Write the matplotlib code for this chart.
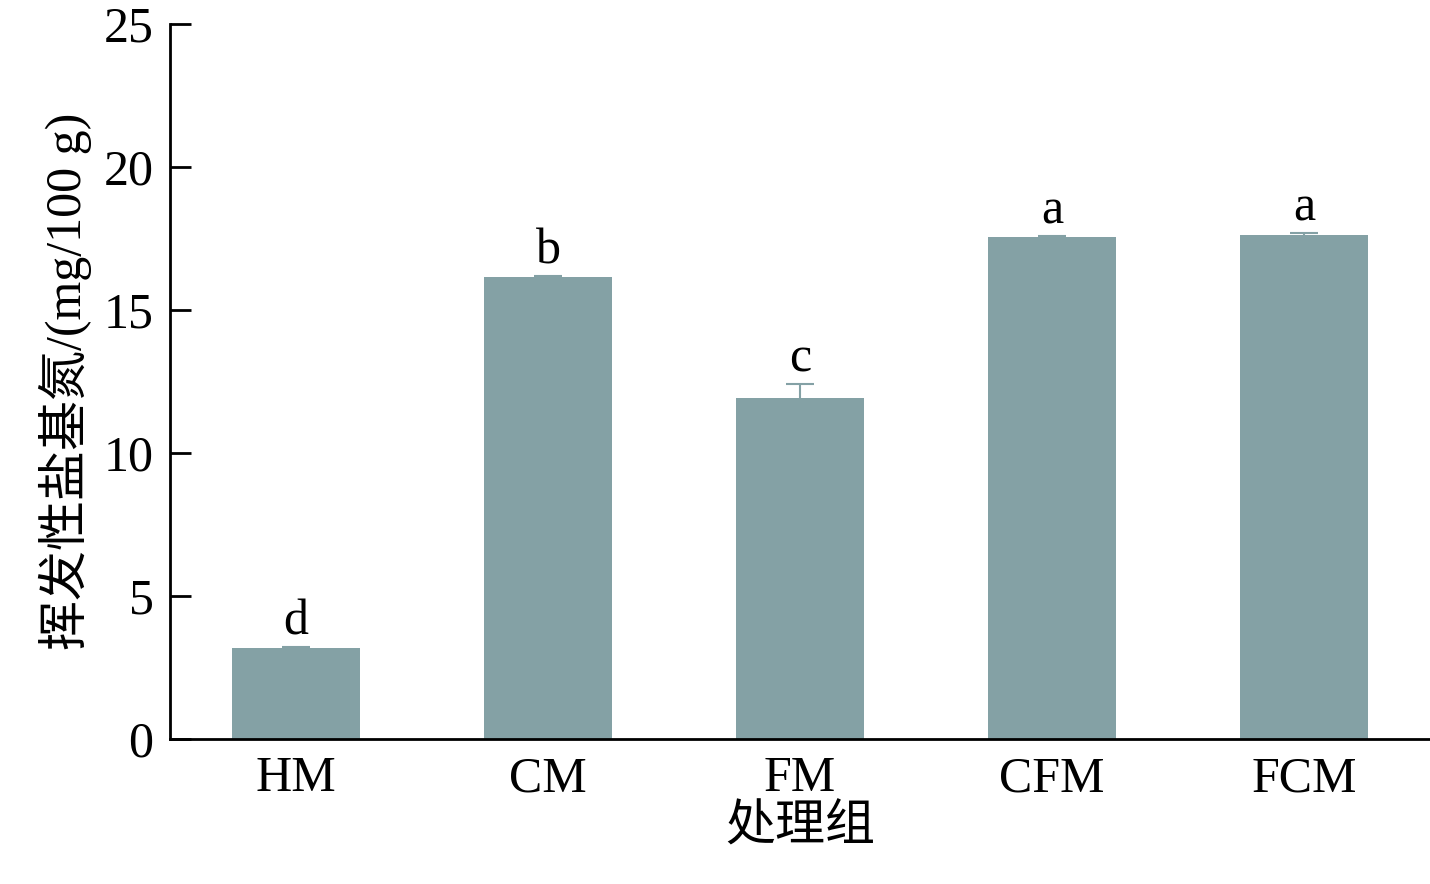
import matplotlib.pyplot as plt

groups = ['HM', 'CM', 'FM', 'CFM', 'FCM']
values = [3.18, 16.15, 11.92, 17.55, 17.62]
errors = [0.03, 0.03, 0.49, 0.03, 0.08]
letters = ['d', 'b', 'c', 'a', 'a']

plt.rcParams['font.family'] = ['Liberation Serif', 'Noto Sans CJK SC']

fig = plt.figure(figsize=(14.3, 8.84), dpi=100)
ax = fig.add_axes([0.119, 0.164, 0.881, 0.809])

x = range(len(groups))
ax.bar(x, values, width=0.51, color='#84a1a5', yerr=errors,
       error_kw=dict(ecolor='#84a1a5', capsize=10, elinewidth=1.5, capthick=1.5))
for i, (v, e, l) in enumerate(zip(values, errors, letters)):
    ax.text(i, v + e + 0.05, l, ha='center', va='bottom', fontsize=36)

ax.set_xlim(-0.5, 4.5)
ax.set_ylim(0, 25)
ax.set_yticks([0, 5, 10, 15, 20, 25])
ax.set_xticks(list(x))
ax.set_xticklabels(groups)
ax.tick_params(axis='y', direction='in', length=15, width=2, labelsize=36, pad=12)
ax.tick_params(axis='x', length=0, labelsize=36, pad=12)
for s in ['top', 'right']:
    ax.spines[s].set_visible(False)
for s in ['left', 'bottom']:
    ax.spines[s].set_linewidth(2)

ax.set_ylabel('挥发性盐基氮/(mg/100 g)', fontsize=36, labelpad=8)
ax.set_xlabel('处理组', fontsize=36, labelpad=2)

fig.savefig('out.png', dpi=100)
